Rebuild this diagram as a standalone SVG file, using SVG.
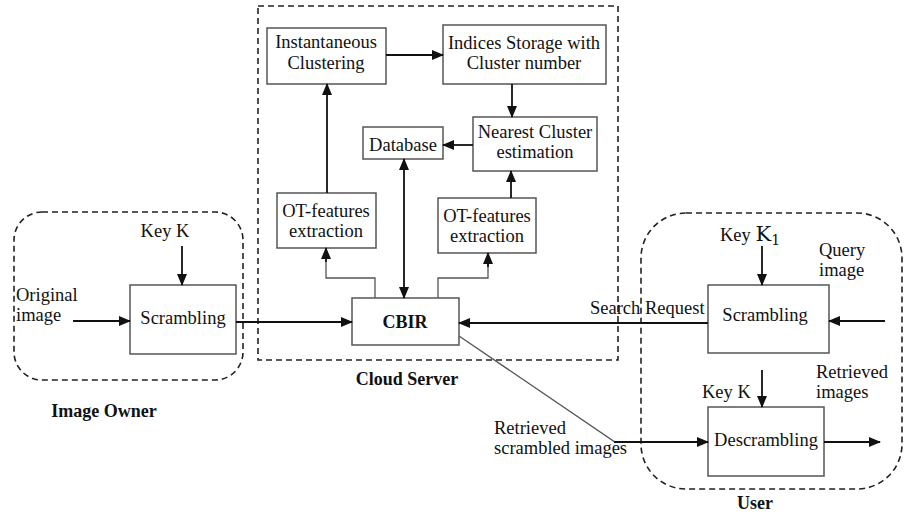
<svg xmlns="http://www.w3.org/2000/svg" width="904" height="515" viewBox="0 0 904 515">
  <style>
    .box { fill: #ffffff; stroke: #555555; stroke-width: 1.5; }
    .zone { fill: none; stroke: #222222; stroke-width: 1.6; stroke-dasharray: 6 4; }
    .txt { font-family: "Liberation Serif", Tinos, "DejaVu Serif", serif; font-size: 18.5px; fill: #111111; }
    .mid { text-anchor: middle; }
    .bold { font-weight: bold; font-size: 18px; }
    .arrow { fill: none; stroke: #111111; stroke-width: 1.8; }
    .thin { fill: none; stroke: #555555; stroke-width: 1.3; }
  </style>
  <defs>
    <marker id="head" markerUnits="userSpaceOnUse" markerWidth="12" markerHeight="12" viewBox="0 0 12 12" refX="11" refY="6" orient="auto-start-reverse">
      <path d="M0,1 L12,6 L0,11 Z" fill="#111111"/>
    </marker>
  </defs>

  <rect width="904" height="515" fill="#ffffff"/>

  <!-- zones -->
  <g id="zone-owner">
    <rect class="zone" x="14" y="212" width="229" height="168" rx="28" ry="28"/>
    <text class="txt bold mid" x="104" y="417">Image Owner</text>
  </g>
  <g id="zone-cloud">
    <rect class="zone" x="258" y="6" width="360" height="354"/>
    <text class="txt bold mid" x="407" y="385">Cloud Server</text>
  </g>
  <g id="zone-user">
    <rect class="zone" x="641" y="213" width="261" height="276" rx="45" ry="45"/>
    <text class="txt bold mid" x="755" y="509">User</text>
  </g>

  <!-- nodes -->
  <g id="owner-scrambling">
    <rect class="box" x="130" y="285" width="106" height="69"/>
    <text class="txt mid" x="183" y="324">Scrambling</text>
  </g>
  <g id="instantaneous-clustering">
    <rect class="box" x="267" y="28" width="119" height="56"/>
    <text class="txt mid" x="326" y="48">Instantaneous</text>
    <text class="txt mid" x="326" y="69">Clustering</text>
  </g>
  <g id="indices-storage">
    <rect class="box" x="443" y="25" width="163" height="59"/>
    <text class="txt mid" x="524" y="49">Indices Storage with</text>
    <text class="txt mid" x="524" y="69">Cluster number</text>
  </g>
  <g id="nearest-cluster">
    <rect class="box" x="473" y="117" width="124" height="54"/>
    <text class="txt mid" x="535" y="138">Nearest Cluster</text>
    <text class="txt mid" x="535" y="158">estimation</text>
  </g>
  <g id="database">
    <rect class="box" x="363" y="127" width="80" height="32"/>
    <text class="txt mid" x="403" y="151">Database</text>
  </g>
  <g id="ot-features-left">
    <rect class="box" x="277" y="193" width="99" height="55"/>
    <text class="txt mid" x="326" y="217">OT-features</text>
    <text class="txt mid" x="326" y="237">extraction</text>
  </g>
  <g id="ot-features-right">
    <rect class="box" x="438" y="198" width="98" height="55"/>
    <text class="txt mid" x="487" y="222">OT-features</text>
    <text class="txt mid" x="487" y="242">extraction</text>
  </g>
  <g id="cbir">
    <rect class="box" x="352" y="298" width="107" height="47"/>
    <text class="txt bold mid" x="405" y="328">CBIR</text>
  </g>
  <g id="user-scrambling">
    <rect class="box" x="708" y="285" width="121" height="68"/>
    <text class="txt mid" x="765" y="321">Scrambling</text>
  </g>
  <g id="descrambling">
    <rect class="box" x="708" y="407" width="116" height="69"/>
    <text class="txt mid" x="766" y="446">Descrambling</text>
  </g>

  <!-- free labels -->
  <g id="labels">
    <text class="txt mid" x="165" y="237">Key K</text>
    <text class="txt" x="16" y="301">Original</text>
    <text class="txt" x="16" y="321">image</text>
    <text class="txt" x="720" y="241">Key <tspan font-family="'DejaVu Serif', serif" font-size="21px">K</tspan><tspan font-family="'DejaVu Serif', serif" font-size="14px" dy="4">1</tspan></text>
    <text class="txt" x="819" y="256">Query</text>
    <text class="txt" x="819" y="276">image</text>
    <text class="txt" x="590" y="314">Search Request</text>
    <text class="txt" x="702" y="398">Key K</text>
    <text class="txt" x="816" y="378">Retrieved</text>
    <text class="txt" x="816" y="398">images</text>
    <text class="txt" x="494" y="434">Retrieved</text>
    <text class="txt" x="494" y="454">scrambled images</text>
  </g>

  <!-- connectors -->
  <g id="connectors">
    <line class="arrow" x1="182" y1="246" x2="182" y2="285" marker-end="url(#head)"/>
    <line class="arrow" x1="73" y1="321" x2="130" y2="321" marker-end="url(#head)"/>
    <line class="arrow" x1="236" y1="322" x2="352" y2="322" marker-end="url(#head)"/>
    <line class="arrow" x1="386" y1="55" x2="443" y2="55" marker-end="url(#head)"/>
    <line class="arrow" x1="512" y1="84" x2="512" y2="117" marker-end="url(#head)"/>
    <line class="arrow" x1="473" y1="145" x2="443" y2="145" marker-end="url(#head)"/>
    <line class="arrow" x1="404" y1="159" x2="404" y2="298" marker-start="url(#head)" marker-end="url(#head)"/>
    <line class="arrow" x1="327" y1="193" x2="327" y2="84" marker-end="url(#head)"/>
    <line class="arrow" x1="511" y1="198" x2="511" y2="171" marker-end="url(#head)"/>
    <polyline class="thin" points="375,298 375,278 326,278 326,250"/>
    <line class="arrow" x1="326" y1="262" x2="326" y2="248" marker-end="url(#head)"/>
    <polyline class="thin" points="438,298 438,278 488,278 488,255"/>
    <line class="arrow" x1="488" y1="267" x2="488" y2="253" marker-end="url(#head)"/>
    <line class="arrow" x1="708" y1="323" x2="459" y2="323" marker-end="url(#head)"/>
    <line class="arrow" x1="885" y1="321" x2="829" y2="321" marker-end="url(#head)"/>
    <line class="arrow" x1="762" y1="246" x2="762" y2="285" marker-end="url(#head)"/>
    <line class="arrow" x1="762" y1="370" x2="762" y2="407" marker-end="url(#head)"/>
    <polyline class="thin" points="459,336 615,442 640,442"/>
    <line class="arrow" x1="614" y1="442" x2="708" y2="442" marker-end="url(#head)"/>
    <line class="arrow" x1="824" y1="442" x2="880" y2="442" marker-end="url(#head)"/>
  </g>
</svg>
